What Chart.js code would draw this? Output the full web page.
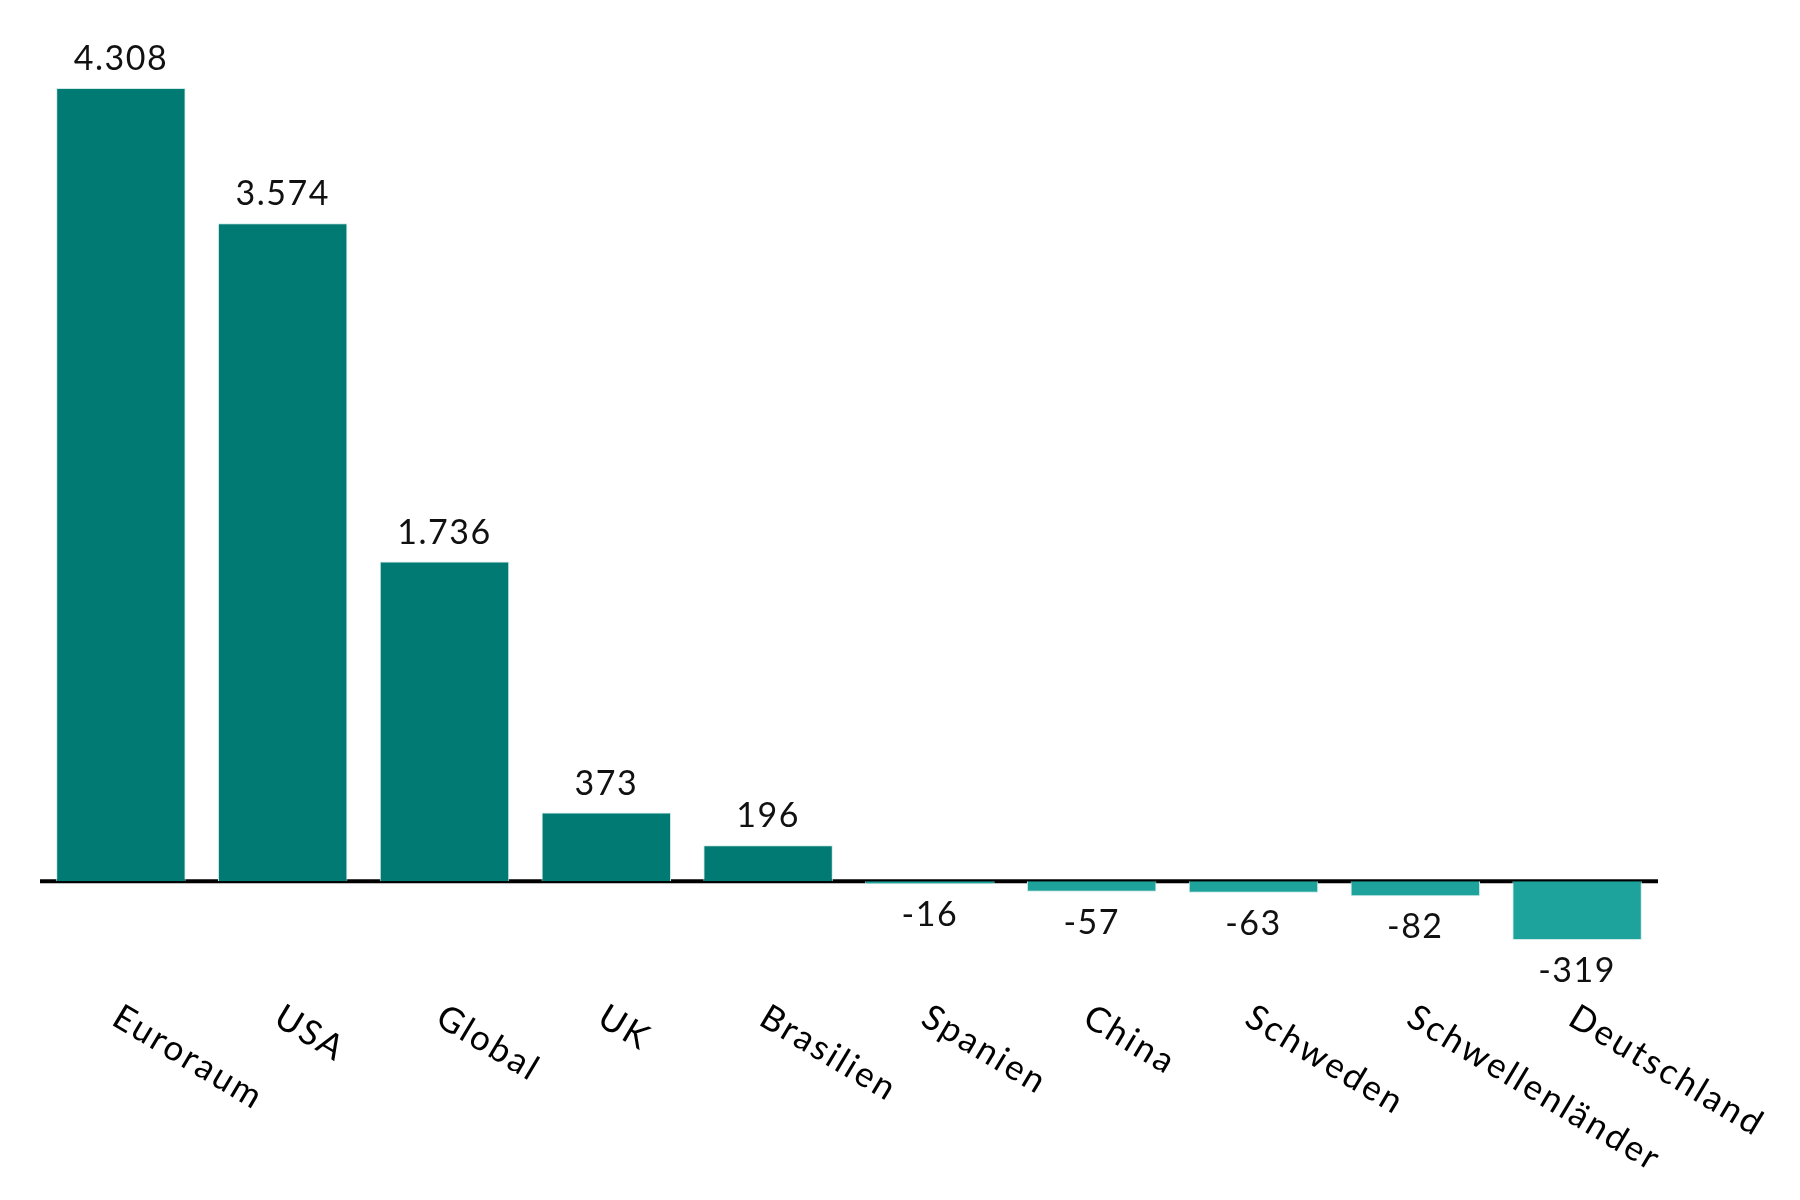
<!DOCTYPE html>
<html>
<head>
<meta charset="utf-8">
<script src="https://cdn.jsdelivr.net/npm/chart.js@4"></script>
<style>
  body { margin: 0; background: #fff; }
  #c { display: block; }
</style>
</head>
<body>
<canvas id="c" width="1800" height="1200"></canvas>
<script>
const categories = ['Euroraum', 'USA', 'Global', 'UK', 'Brasilien', 'Spanien', 'China', 'Schweden', 'Schwellenländer', 'Deutschland'];
const values = [4308, 3574, 1736, 373, 196, -16, -57, -63, -82, -319];

const DARK = '#007a73';
const LIGHT = '#1da39b';
const FONT = 'Lato, "Open Sans", sans-serif';

// 4308 -> "4.308"
function fmt(v) {
  const s = String(Math.abs(v)).replace(/\B(?=(\d{3})+(?!\d))/g, '.');
  return (v < 0 ? '-' : '') + s;
}

const zeroLine = {
  id: 'zeroLine',
  beforeDatasetsDraw(chart) {
    const { ctx, chartArea, scales } = chart;
    const y = scales.y.getPixelForValue(0);
    ctx.save();
    ctx.fillStyle = '#000';
    ctx.fillRect(chartArea.left, y - 2, chartArea.right - chartArea.left, 4);
    ctx.restore();
  }
};

const labels = {
  id: 'labels',
  afterDatasetsDraw(chart) {
    const { ctx, scales } = chart;
    const meta = chart.getDatasetMeta(0);
    ctx.save();
    ctx.fillStyle = '#111';
    ctx.font = '34px ' + FONT;
    ctx.letterSpacing = '1.5px';
    ctx.textAlign = 'center';
    ctx.textBaseline = 'alphabetic';
    meta.data.forEach((bar, i) => {
      const v = values[i];
      if (v >= 0) ctx.fillText(fmt(v), bar.x, bar.y - 18);
      else ctx.fillText(fmt(v), bar.x, bar.y + 42);
    });
    // category labels, rotated down to the right
    ctx.font = '35px ' + FONT;
    ctx.letterSpacing = '2.5px';
    ctx.textAlign = 'left';
    ctx.textBaseline = 'top';
    ctx.fillStyle = '#000';
    categories.forEach((c, i) => {
      const x = scales.x.getPixelForValue(i);
      ctx.save();
      ctx.translate(x + 4, 999);
      ctx.rotate(31 * Math.PI / 180);
      ctx.fillText(c, 0, 0);
      ctx.restore();
    });
    ctx.restore();
  }
};

new Chart(document.getElementById('c'), {
  type: 'bar',
  data: {
    labels: categories,
    datasets: [{
      data: values,
      backgroundColor: values.map(v => v >= 0 ? DARK : LIGHT),
      borderColor: '#cdeae7',
      borderWidth: 1,
      barPercentage: 0.8,
      categoryPercentage: 1
    }]
  },
  options: {
    responsive: false,
    animation: false,
    layout: { padding: { top: 88, bottom: 260, left: 40, right: 142 } },
    plugins: {
      legend: { display: false },
      tooltip: { enabled: false }
    },
    scales: {
      x: { display: false, offset: true },
      y: { display: false, min: -319, max: 4308 }
    }
  },
  plugins: [zeroLine, labels]
});
</script>
</body>
</html>
